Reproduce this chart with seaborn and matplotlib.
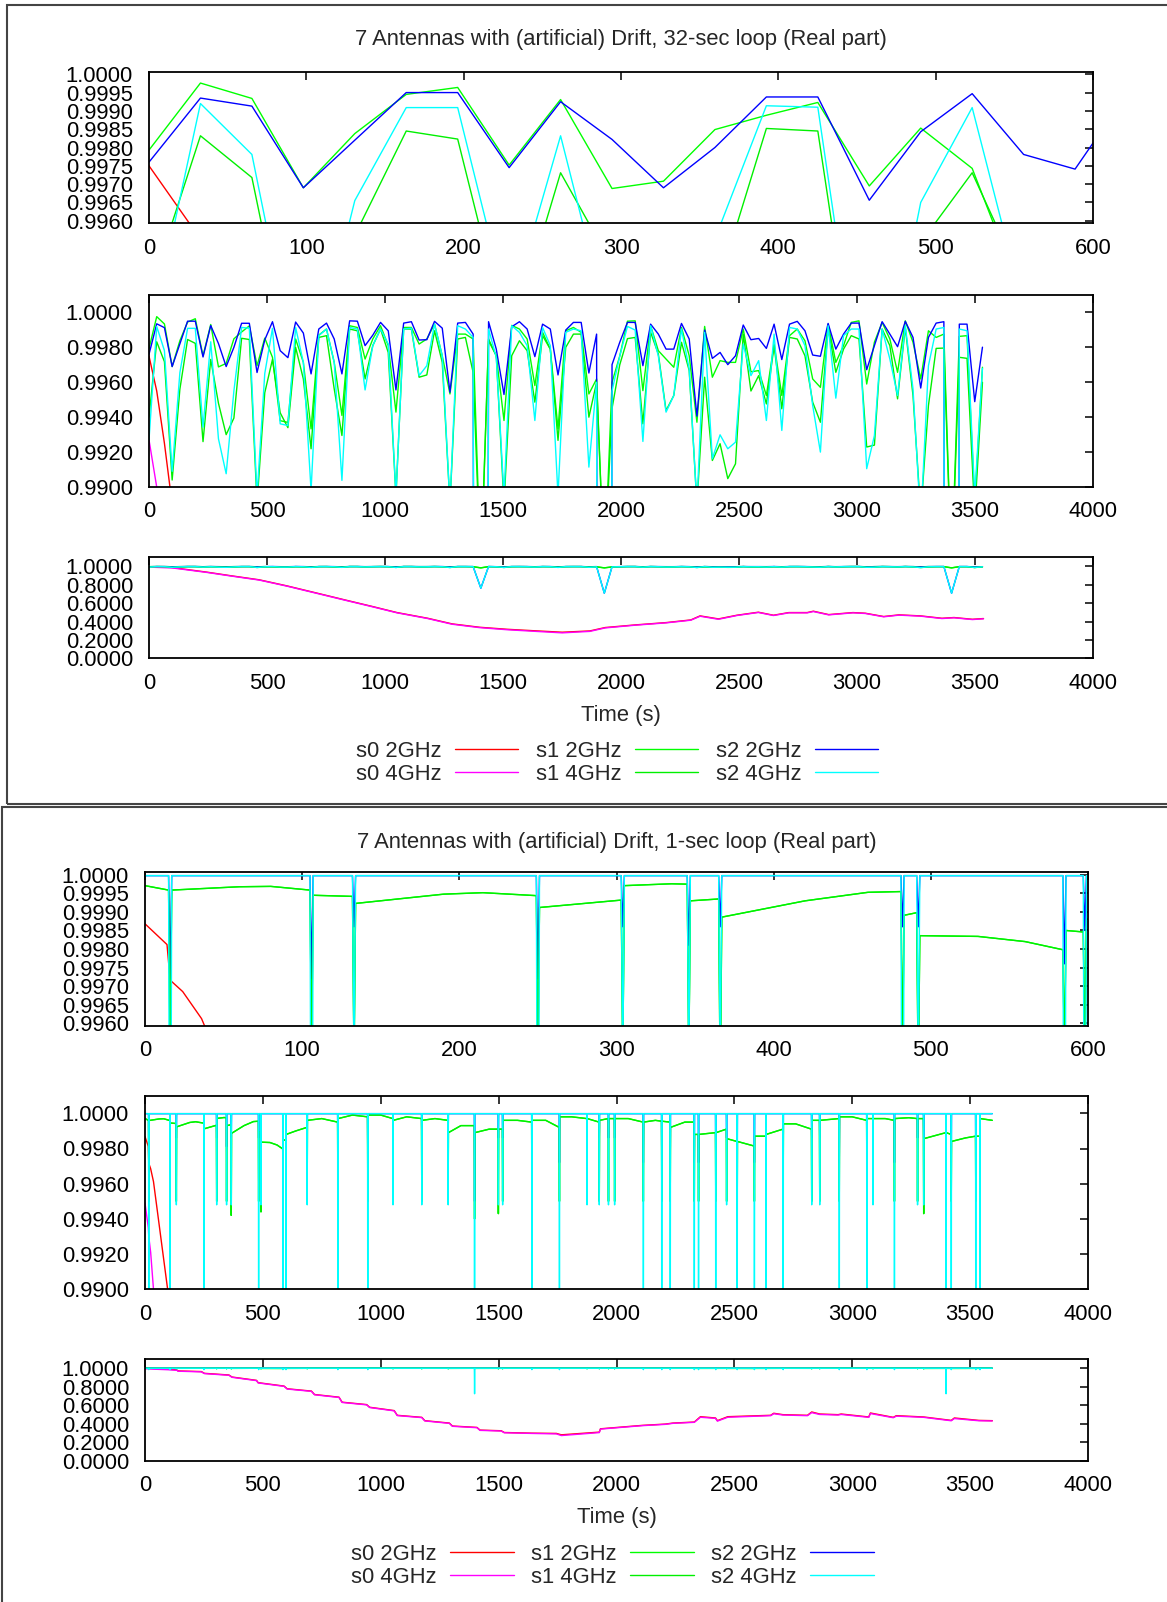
import numpy as np
import matplotlib
matplotlib.use("Agg")
import matplotlib.pyplot as plt
import seaborn as sns
from matplotlib.lines import Line2D
from matplotlib.patches import Rectangle
from matplotlib.ticker import FormatStrFormatter, MultipleLocator

# ---------------- panel 1: 32-sec loop (one sample every 32.7 s) ----------------
LOOP_STEP = 32.7
p1_s1_2g = [0.99793, 0.99976, 0.99934, 0.99690, 0.99838, 0.99945, 0.99964, 0.99752, 0.99931, 0.99688,
            0.99708, 0.99849, 0.99888, 0.99923, 0.99695, 0.99853, 0.99743, 0.9938, 0.9937, 0.99848,
            0.99714, 0.99333, 0.9987, 0.99905, 0.99714, 0.9941, 0.99924, 0.99914, 0.99733, 0.99848,
            0.99924, 0.9981, 0.99429, 0.99914, 0.99914, 0.99819, 0.99848, 0.99933, 0.99752, 0.99533,
            0.99876, 0.99876, 0.99848, 0.985, 0.99848, 0.99752, 0.99381, 0.99926, 0.99905, 0.99848,
            0.99581, 0.99886, 0.9979, 0.99333, 0.99895, 0.99914, 0.99886, 0.99533, 0.99619, 0.985,
            0.9960, 0.9975, 0.9995, 0.99952, 0.99552, 0.99924, 0.99781, 0.99733, 0.99686, 0.99914,
            0.99752, 0.99371, 0.9992, 0.99629, 0.99724, 0.99714, 0.99714, 0.99905, 0.9966, 0.99667,
            0.99524, 0.99819, 0.99524, 0.99867, 0.99905, 0.99838, 0.99619, 0.99571, 0.99933, 0.99714,
            0.9981, 0.99943, 0.99952, 0.9959, 0.9983, 0.99943, 0.99848, 0.99657, 0.99952, 0.99829,
            0.99619, 0.99895, 0.99857, 0.99876, 0.985, 0.99863, 0.99867, 0.9890, 0.99686]
p1_s1_4g = [0.9940, 0.99832, 0.99718, 0.9904, 0.9956, 0.99845, 0.99823, 0.9926, 0.99731, 0.9948,
            0.9930, 0.99395, 0.99852, 0.99845, 0.9891, 0.9954, 0.99731, 0.99425, 0.9934, 0.9980,
            0.99619, 0.99219, 0.99857, 0.99867, 0.99562, 0.99295, 0.99905, 0.99895, 0.99619, 0.9981,
            0.99905, 0.99771, 0.9895, 0.99905, 0.99905, 0.99629, 0.99642, 0.99895, 0.99714, 0.9890,
            0.99848, 0.99857, 0.99657, 0.985, 0.99838, 0.99752, 0.9890, 0.99752, 0.99838, 0.99781,
            0.99486, 0.99867, 0.9979, 0.99267, 0.998, 0.99876, 0.99876, 0.9940, 0.9960, 0.985,
            0.9945, 0.9970, 0.9985, 0.99857, 0.99362, 0.99886, 0.99762, 0.99438, 0.99524, 0.99829,
            0.99667, 0.9890, 0.99629, 0.99152, 0.99248, 0.99048, 0.99133, 0.99876, 0.9955, 0.99638,
            0.99476, 0.9981, 0.99448, 0.99857, 0.99848, 0.99752, 0.99486, 0.99371, 0.99914, 0.99657,
            0.9979, 0.99867, 0.99848, 0.99229, 0.9924, 0.99905, 0.9981, 0.99505, 0.99914, 0.99524,
            0.9885, 0.99467, 0.99794, 0.99796, 0.985, 0.99743, 0.99737, 0.9885, 0.9960]
p1_s2_2g = [0.9976, 0.99935, 0.99913, 0.99690, 0.9982, 0.99950, 0.99950, 0.99745, 0.99925, 0.99822,
            0.99690, 0.99800, 0.99938, 0.99938, 0.99656, 0.99843, 0.99947, 0.99781, 0.99741, 0.99945,
            0.99882, 0.99648, 0.99905, 0.99939, 0.99848, 0.99648, 0.99952, 0.99950, 0.99810, 0.99870,
            0.99943, 0.99895, 0.99556, 0.99939, 0.99947, 0.99842, 0.99844, 0.99949, 0.99910, 0.99543,
            0.99939, 0.99943, 0.99876, 0.764, 0.99947, 0.99790, 0.99530, 0.99918, 0.99947, 0.99905,
            0.99747, 0.99933, 0.99905, 0.99642, 0.99899, 0.99943, 0.99943, 0.99653, 0.99876, 0.709,
            0.99701, 0.99829, 0.99943, 0.99943, 0.99695, 0.99933, 0.99876, 0.99790, 0.99790, 0.99937,
            0.99848, 0.99406, 0.99899, 0.99737, 0.99771, 0.99701, 0.99752, 0.99928, 0.99844, 0.99851,
            0.99794, 0.99933, 0.99730, 0.99933, 0.99949, 0.99895, 0.99756, 0.99749, 0.99937, 0.99790,
            0.99876, 0.99939, 0.99939, 0.99672, 0.99810, 0.99947, 0.99876, 0.99804, 0.99949, 0.99857,
            0.99567, 0.99857, 0.99939, 0.99947, 0.709, 0.99933, 0.99933, 0.99489, 0.99801]
p1_s2_4g = [0.9927, 0.9992, 0.99781, 0.9909, 0.99655, 0.99909, 0.99909, 0.99343, 0.99832, 0.99276,
            0.99076, 0.9955, 0.99914, 0.9991, 0.9895, 0.9965, 0.99909, 0.99362, 0.99352, 0.99914,
            0.99714, 0.9898, 0.99867, 0.99905, 0.99714, 0.99038, 0.99914, 0.99905, 0.99556, 0.99810,
            0.99905, 0.9982, 0.9895, 0.99905, 0.9991, 0.99638, 0.99695, 0.99933, 0.99752, 0.9890,
            0.99924, 0.99905, 0.99857, 0.764, 0.99905, 0.99743, 0.9895, 0.99924, 0.99886, 0.9981,
            0.99381, 0.99914, 0.9981, 0.9895, 0.99886, 0.99905, 0.99895, 0.99114, 0.9960, 0.709,
            0.9955, 0.9975, 0.9992, 0.99899, 0.99261, 0.99924, 0.9975, 0.99429, 0.99524, 0.99905,
            0.99676, 0.9890, 0.99886, 0.99162, 0.99299, 0.99219, 0.99257, 0.99819, 0.99638, 0.99724,
            0.99381, 0.99876, 0.99324, 0.99914, 0.99905, 0.9981, 0.99467, 0.9920, 0.99924, 0.99509,
            0.99867, 0.99905, 0.99905, 0.99105, 0.99295, 0.99905, 0.99733, 0.99524, 0.99924, 0.99562,
            0.9880, 0.99695, 0.99905, 0.99914, 0.709, 0.99905, 0.99895, 0.9895, 0.9968]
p1_s0_t = [0, 32.7, 65.4, 98.1, 117, 246, 350, 467, 584, 713, 830, 947, 1051, 1181, 1284, 1401, 1518,
           1647, 1751, 1868, 1933, 2062, 2192, 2296, 2335, 2413, 2491, 2582, 2646, 2711, 2789, 2815,
           2880, 2983, 3035, 3113, 3178, 3269, 3360, 3411, 3489, 3536]
p1_s0_2g = [0.9975, 0.9955, 0.9925, 0.989, 0.982, 0.938, 0.898, 0.855, 0.789, 0.709, 0.636, 0.564,
            0.498, 0.436, 0.375, 0.338, 0.316, 0.298, 0.284, 0.298, 0.335, 0.364, 0.389, 0.418, 0.462,
            0.429, 0.469, 0.502, 0.469, 0.498, 0.498, 0.513, 0.476, 0.498, 0.491, 0.455, 0.473, 0.462,
            0.436, 0.444, 0.425, 0.433]
p1_s0_4g = [0.9927, 0.990, 0.987, 0.984, 0.978, 0.935, 0.895, 0.852, 0.786, 0.706, 0.633, 0.561,
            0.495, 0.433, 0.371, 0.334, 0.311, 0.292, 0.277, 0.293, 0.331, 0.361, 0.386, 0.415, 0.458,
            0.425, 0.466, 0.499, 0.466, 0.495, 0.495, 0.509, 0.473, 0.495, 0.488, 0.452, 0.470, 0.459,
            0.433, 0.441, 0.422, 0.430]

# ---------------- panel 2: 1-sec loop ----------------
P2_END = 3595
P2_S2_LEVEL = 0.99998
p2_dip_t = [16, 106, 133, 250, 304, 346, 366, 482, 492, 585, 598, 688, 818, 945, 1052, 1174, 1286,
            1398, 1499, 1517, 1641, 1758, 1875, 1927, 1966, 1992, 2114, 2192, 2228, 2330, 2348, 2421,
            2467, 2512, 2585, 2634, 2707, 2828, 2862, 2945, 3062, 3088, 3179, 3277, 3303, 3398, 3420,
            3524, 3542]
p2_dip_s2_4g = [0.985, 0.985, 0.9948, 0.985, 0.9948, 0.9948, 0.9948, 0.985, 0.9948, 0.985,
                0.985, 0.9948, 0.985, 0.985, 0.9948, 0.9948, 0.9948, 0.724, 0.9948, 0.9948,
                0.985, 0.985, 0.9948, 0.9948, 0.9948, 0.9948, 0.985, 0.985, 0.985, 0.985,
                0.985, 0.985, 0.9948, 0.985, 0.985, 0.985, 0.985, 0.9948, 0.9948, 0.985,
                0.985, 0.9948, 0.985, 0.9948, 0.9948, 0.724, 0.985, 0.985, 0.985]
p2_dip_s2_2g = [0.9972, 0.9972, 0.9986, 0.9972, 0.9986, 0.9981, 0.9986, 0.9986, 0.9986, 0.9976,
                0.9985, 0.9986, 0.9972, 0.9972, 0.9986, 0.9986, 0.9986, 0.9950, 0.9986, 0.9986,
                0.9972, 0.9972, 0.9986, 0.9986, 0.9986, 0.9986, 0.9972, 0.9972, 0.9972, 0.9972,
                0.9972, 0.9972, 0.9986, 0.9972, 0.9972, 0.9972, 0.9972, 0.9986, 0.9986, 0.9972,
                0.9972, 0.9986, 0.9972, 0.9986, 0.9986, 0.9950, 0.9972, 0.9972, 0.9972]
p2_dip_s1 = [0.9950, 0.9950, 0.9950, 0.9950, 0.9950, 0.9950, 0.9942, 0.9950, 0.9944, 0.9950,
             0.9950, 0.9950, 0.9950, 0.9950, 0.9950, 0.9950, 0.9950, 0.9940, 0.9943, 0.9950,
             0.9950, 0.9950, 0.9950, 0.9950, 0.9950, 0.9950, 0.9950, 0.9950, 0.9950, 0.9950,
             0.9950, 0.9950, 0.9950, 0.9938, 0.9950, 0.9950, 0.9950, 0.9950, 0.9950, 0.9950,
             0.9950, 0.9950, 0.9950, 0.9950, 0.9943, 0.9950, 0.9950, 0.9950, 0.9950]
p2_s1_t = [0, 15, 17, 60, 80, 105, 107, 132, 134, 190, 215, 249, 251, 303, 305, 335, 345, 347, 365,
           367, 420, 460, 481, 483, 491, 493, 530, 560, 584, 586, 597, 599, 640, 687, 689, 750, 817,
           819, 880, 944, 946, 1000, 1051, 1053, 1110, 1173, 1175, 1230, 1285, 1287, 1340, 1397,
           1399, 1460, 1498, 1500, 1516, 1518, 1580, 1640, 1642, 1700, 1757, 1759, 1810, 1874, 1876,
           1926, 1928, 1965, 1967, 1991, 1993, 2050, 2113, 2115, 2165, 2191, 2193, 2227, 2229, 2290,
           2329, 2331, 2347, 2349, 2420, 2422, 2466, 2468, 2511, 2513, 2584, 2586, 2633, 2635, 2706,
           2708, 2760, 2827, 2829, 2861, 2863, 2944, 2946, 3000, 3061, 3063, 3087, 3089, 3140, 3178,
           3180, 3240, 3276, 3278, 3302, 3304, 3397, 3399, 3419, 3421, 3480, 3523, 3525, 3541, 3543,
           3594]
p2_s1_v = [0.99971, 0.99959, 0.99959, 0.99968, 0.99969, 0.99959, 0.99945, 0.99942, 0.99923, 0.99948,
           0.99952, 0.99944, 0.99912, 0.99932, 0.99971, 0.99976, 0.99975, 0.99930, 0.99935, 0.99886,
           0.99930, 0.99953, 0.99955, 0.99891, 0.99898, 0.99836, 0.99834, 0.99820, 0.99798, 0.99850,
           0.99846, 0.99880, 0.99900, 0.99920, 0.99960, 0.99970, 0.99950, 0.99970, 0.99990, 0.99980,
           0.99990, 0.99990, 0.99970, 0.99960, 0.99980, 0.99970, 0.99960, 0.99970, 0.99960, 0.99890,
           0.99930, 0.99930, 0.99890, 0.99910, 0.99910, 0.99910, 0.99910, 0.99960, 0.99960, 0.99950,
           0.99960, 0.99960, 0.99920, 0.99980, 0.99980, 0.99970, 0.99970, 0.99950, 0.99960, 0.99970,
           0.99970, 0.99970, 0.99970, 0.99970, 0.99950, 0.99950, 0.99960, 0.99955, 0.99955, 0.99950,
           0.99920, 0.99950, 0.99950, 0.99880, 0.99880, 0.99880, 0.99890, 0.99890, 0.99910, 0.99856,
           0.99840, 0.99840, 0.99814, 0.99870, 0.99870, 0.99880, 0.99910, 0.99940, 0.99940, 0.99910,
           0.99960, 0.99960, 0.99960, 0.99970, 0.99980, 0.99980, 0.99960, 0.99970, 0.99970, 0.99970,
           0.99970, 0.99960, 0.99970, 0.99975, 0.99970, 0.99970, 0.99970, 0.99856, 0.99890, 0.99890,
           0.99880, 0.99840, 0.99860, 0.99870, 0.99870, 0.99870, 0.99970, 0.99960]
p2_s0_t = [0, 14, 16, 24, 36, 96, 135, 140, 239, 252, 356, 369, 473, 480, 590, 603, 706, 719, 823,
           836, 940, 953, 1057, 1070, 1174, 1187, 1291, 1304, 1408, 1421, 1511, 1524, 1641, 1745,
           1766, 1927, 1932, 2109, 2207, 2239, 2330, 2356, 2420, 2428, 2472, 2654, 2667, 2706, 2810,
           2828, 2862, 2940, 2953, 3070, 3077, 3174, 3187, 3303, 3420, 3433, 3537, 3594]
p2_s0_2g = [0.99868, 0.99812, 0.99716, 0.99685, 0.99612, 0.9900, 0.982, 0.971, 0.964, 0.945, 0.927,
            0.905, 0.869, 0.844, 0.807, 0.778, 0.753, 0.716, 0.687, 0.633, 0.607, 0.578, 0.542, 0.491,
            0.469, 0.433, 0.407, 0.375, 0.360, 0.331, 0.324, 0.305, 0.298, 0.295, 0.280, 0.309, 0.345,
            0.382, 0.396, 0.407, 0.418, 0.476, 0.462, 0.433, 0.476, 0.491, 0.513, 0.498, 0.491, 0.527,
            0.505, 0.498, 0.505, 0.473, 0.516, 0.469, 0.487, 0.473, 0.436, 0.462, 0.436, 0.433]
p2_s0_4g = [0.9949, 0.9935, 0.9930, 0.9921, 0.9900, 0.984, 0.978, 0.968, 0.961, 0.942, 0.924, 0.902,
            0.866, 0.841, 0.804, 0.775, 0.750, 0.713, 0.684, 0.630, 0.604, 0.575, 0.539, 0.488, 0.466,
            0.430, 0.404, 0.372, 0.357, 0.328, 0.321, 0.302, 0.295, 0.290, 0.272, 0.304, 0.342, 0.379,
            0.393, 0.404, 0.415, 0.470, 0.458, 0.428, 0.470, 0.487, 0.508, 0.494, 0.487, 0.520, 0.500,
            0.494, 0.500, 0.469, 0.510, 0.465, 0.482, 0.469, 0.432, 0.456, 0.432, 0.430]

labels = ["s0 2GHz", "s1 2GHz", "s2 2GHz", "s0 4GHz", "s1 4GHz", "s2 4GHz"]
colors = ["#ff0000", "#00ff00", "#0000ff", "#ff00ff", "#00f000", "#00ffff"]

# ---------------- build series ----------------
p1_t = np.arange(len(p1_s2_2g)) * LOOP_STEP
panel1 = [(p1_s0_t, p1_s0_2g), (p1_t, p1_s1_2g), (p1_t, p1_s2_2g),
          (p1_s0_t, p1_s0_4g), (p1_t, p1_s1_4g), (p1_t, p1_s2_4g)]

p2_t = np.arange(P2_END)
p2_s2_2g = np.full(P2_END, P2_S2_LEVEL)
p2_s2_2g[p2_dip_t] = p2_dip_s2_2g
p2_s2_4g = np.full(P2_END, P2_S2_LEVEL)
p2_s2_4g[p2_dip_t] = p2_dip_s2_4g
g_t = np.concatenate([p2_s1_t, p2_dip_t])
g_v = np.concatenate([p2_s1_v, p2_dip_s1])
order = np.argsort(g_t, kind="stable")
g_t, g_v = g_t[order], g_v[order]
panel2 = [(p2_s0_t, p2_s0_2g), (g_t, g_v), (p2_t, p2_s2_2g),
          (p2_s0_t, p2_s0_4g), (g_t, g_v), (p2_t, p2_s2_4g)]

# ---------------- figure ----------------
sns.set_theme(style="white")
plt.rcParams["font.family"] = ["Liberation Sans", "DejaVu Sans"]
FS = 15.8
W, H = 1167, 1602
fig = plt.figure(figsize=(W / 100, H / 100), dpi=100)


def add_ax(x0, x1, y0, y1):
    return fig.add_axes([x0 / W, 1 - y1 / H, (x1 - x0) / W, (y1 - y0) / H])


def style(ax, xlim, xstep, ylim, ystep):
    ax.set_xlim(*xlim)
    ax.set_ylim(*ylim)
    ax.xaxis.set_major_locator(MultipleLocator(xstep))
    ax.yaxis.set_major_locator(MultipleLocator(ystep))
    ax.xaxis.set_major_formatter(FormatStrFormatter("%d"))
    ax.yaxis.set_major_formatter(FormatStrFormatter("%.4f"))
    ax.tick_params(direction="in", top=True, right=True, length=6, width=1.1,
                   labelsize=FS, colors="black")
    ax.tick_params(axis="x", pad=10.3)
    ax.tick_params(axis="y", pad=11.5)
    for s in ax.spines.values():
        s.set_visible(True)
        s.set_color("black")
        s.set_linewidth(1.3)
    ax.set_xlabel("")
    ax.set_ylabel("")
    ax.set_facecolor("white")


def draw(ax, series):
    for (t, v), c in zip(series, colors):
        sns.lineplot(x=np.asarray(t, dtype=float), y=np.asarray(v, dtype=float), ax=ax,
                     color=c, lw=1.0, estimator=None, sort=False, legend=False)


layouts = [
    (panel1, 149, 1093, [(71.7, 223.3), (295, 487), (557.3, 658.3)], 40, 715, 763,
     "7 Antennas with (artificial) Drift, 32-sec loop (Real part)"),
    (panel2, 145, 1088, [(872.3, 1025.7), (1095.7, 1289.3), (1359, 1460.7)], 843, 1518, 1566,
     "7 Antennas with (artificial) Drift, 1-sec loop (Real part)"),
]

for series, x0, x1, rows, ty, ly, gy, title in layouts:
    a = add_ax(x0, x1, *rows[0])
    draw(a, series)
    style(a, (0, 600), 100, (0.99593, 1.00007), 0.0005)
    b = add_ax(x0, x1, *rows[1])
    draw(b, series)
    style(b, (0, 4000), 500, (0.99, 1.001), 0.002)
    c = add_ax(x0, x1, *rows[2])
    draw(c, series)
    style(c, (0, 4000), 500, (0, 1.1), 0.2)
    cx = (x0 + x1) / 2
    fig.text(cx / W, 1 - ty / H, title, ha="center", va="center", fontsize=FS)
    fig.text(cx / W, 1 - ly / H, "Time (s)", ha="center", va="center", fontsize=FS)
    handles = [Line2D([], [], color=colors[i], lw=1.0) for i in (0, 3, 1, 4, 2, 5)]
    names = [labels[i] for i in (0, 3, 1, 4, 2, 5)]
    fig.legend(handles, names, ncol=3, loc="center", bbox_to_anchor=((cx - 4) / W, 1 - gy / H),
               frameon=False, fontsize=FS, markerfirst=False, handlelength=2.9,
               handletextpad=0.6, columnspacing=0.8, labelspacing=0.1, borderpad=0)

# outer panel frames
fig.add_artist(Rectangle((7 / W, 1 - 804 / H), 1.2, 799 / H, transform=fig.transFigure,
                         fill=False, ec="#444444", lw=1.5, clip_on=False))
fig.add_artist(Rectangle((2 / W, -0.2), 1.2, 0.2 + (H - 807) / H, transform=fig.transFigure,
                         fill=False, ec="#444444", lw=1.5, clip_on=False))

fig.savefig("out.png", dpi=100, facecolor="white")
